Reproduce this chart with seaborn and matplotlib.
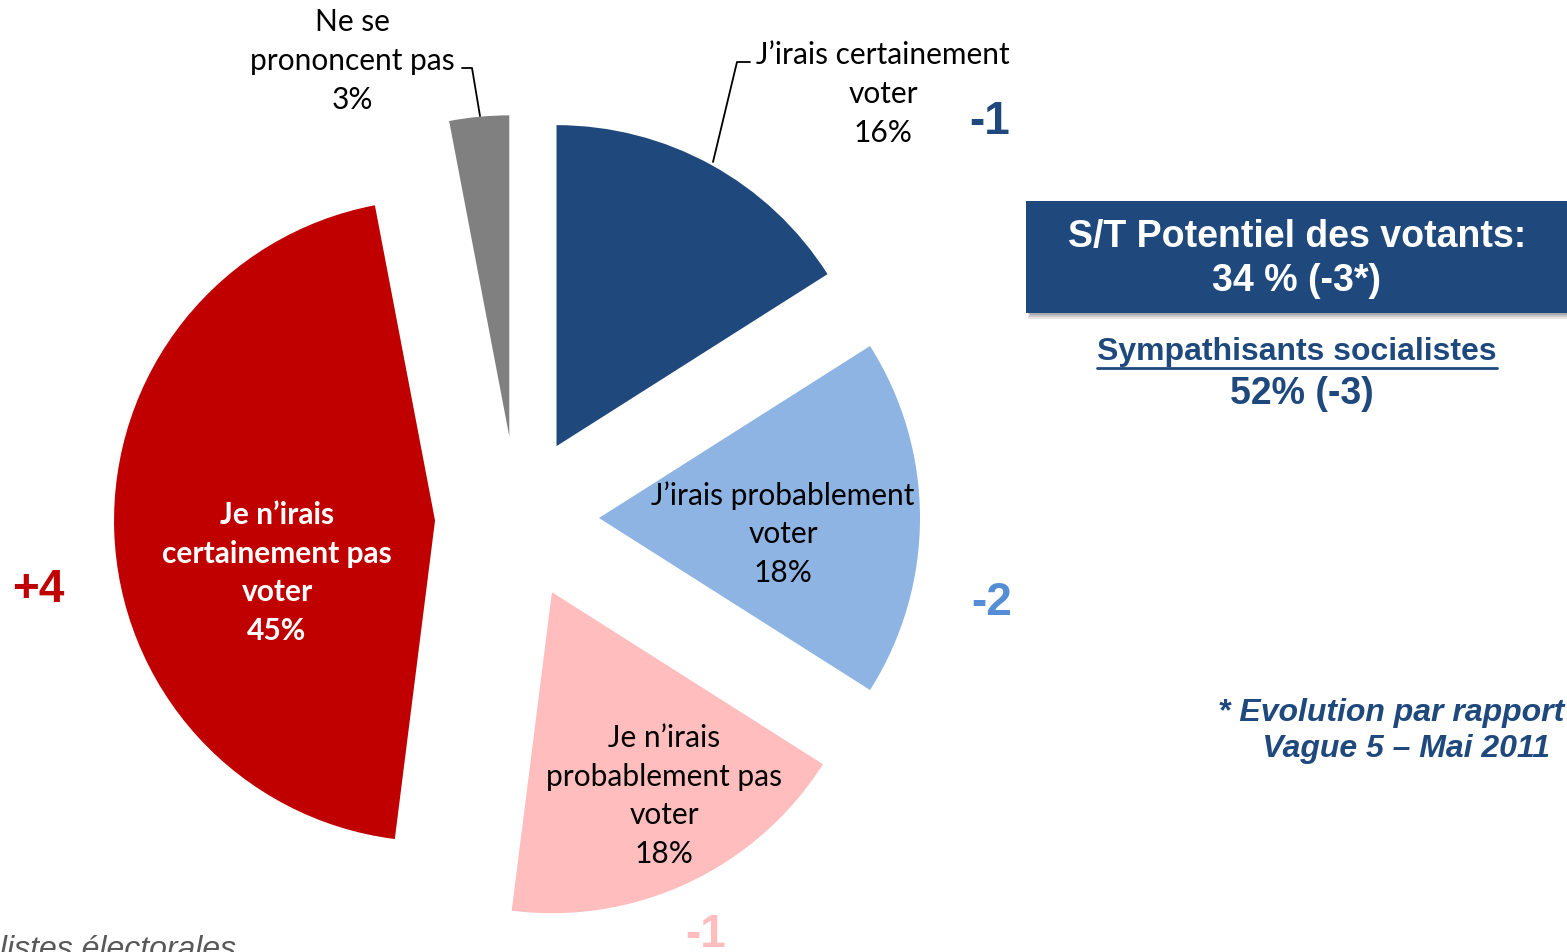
import numpy as np
import pandas as pd
import seaborn as sns
from matplotlib import pyplot as plt
from matplotlib.patches import Rectangle

# survey data
categories = ["J’irais certainement\nvoter",
              "J’irais probablement\nvoter",
              "Je n’irais\nprobablement pas\nvoter",
              "Je n’irais\ncertainement pas\nvoter",
              "Ne se\nprononcent pas"]
values = [16, 18, 18, 45, 3]
changes = ['-1', '-2', '-1', '+4', '']
slice_colors = ['#1F497D', '#8EB4E3', '#FFBDBD', '#C00000', '#808080']
change_colors = ['#1F497D', '#558ED5', '#FFBDBD', '#C00000', '#808080']

box_title = 'S/T Potentiel des votants:\n34 % (-3*)'
sub_title = 'Sympathisants socialistes'
sub_value = '52% (-3)'
note = '* Evolution par rapport\n     Vague 5 – Mai 2011'
base_note = 'Base : inscrits sur les listes électorales'

df = pd.DataFrame({'categorie': categories, 'valeur': values, 'evolution': changes})

W, H = 1567, 952
sns.set_theme(style='white')
plt.rcParams['font.family'] = ['Lato', 'DejaVu Sans']

fig = plt.figure(figsize=(W / 100, H / 100), dpi=100)
ax = fig.add_axes([0, 0, 1, 1])

def Y(y):
    # picture rows -> axes y
    return H - y

center = (517, Y(518))
radius = 321
wedges, _ = ax.pie(df['valeur'], colors=slice_colors, startangle=90, counterclock=False,
                   explode=[82] * len(df), radius=radius, center=center,
                   wedgeprops=dict(linewidth=0))
ax.set_xlim(0, W)
ax.set_ylim(0, H)
ax.set_aspect('equal')
ax.axis('off')

lab_kw = dict(ha='center', va='center', fontsize=21.5, linespacing=1.47)
# slice labels
ax.text(883, Y(94), f"{df['categorie'][0]}\n{df['valeur'][0]}%", color='black', **lab_kw)
ax.text(783, Y(534), f"{df['categorie'][1]}\n{df['valeur'][1]}%", color='black', **lab_kw)
ax.text(664, Y(796), f"{df['categorie'][2]}\n{df['valeur'][2]}%", color='black', **lab_kw)
ax.text(277, Y(573), f"{df['categorie'][3]}\n{df['valeur'][3]}%", color='white',
        fontweight='bold', **lab_kw)
ax.text(352, Y(61), f"{df['categorie'][4]}\n{df['valeur'][4]}%", color='black', **lab_kw)

# leader lines
ax.plot([713, 737, 750], [Y(162), Y(62), Y(62)], color='black', lw=1.3)
ax.plot([462, 472, 480], [Y(68), Y(68), Y(116)], color='black', lw=1.3)

# evolutions
ch_kw = dict(ha='center', va='center', fontsize=33, fontweight='bold', family='Liberation Sans')
ax.text(990, Y(122), df['evolution'][0], color=change_colors[0], **ch_kw)
ax.text(992, Y(603), df['evolution'][1], color=change_colors[1], **ch_kw)
ax.text(706, Y(935), df['evolution'][2], color=change_colors[2], **ch_kw)
ax.text(38, Y(590), df['evolution'][3], color=change_colors[3], **ch_kw)

# summary box with shadow
for i, a in enumerate([0.10, 0.12, 0.15]):
    ax.add_patch(Rectangle((1026 + 2 + i, Y(313) - 6 + i * 2), 560, 111, color='black',
                           alpha=a, lw=0))
ax.add_patch(Rectangle((1026, Y(313)), 560, 112, color='#1F497D', lw=0))
ax.text(1297, Y(259), box_title, ha='center', va='center', color='white', fontsize=27,
        fontweight='bold', family='Liberation Sans', linespacing=1.3)

ax.text(1297, Y(352), sub_title, ha='center', va='center', color='#1F497D', fontsize=23,
        fontweight='bold', family='Liberation Sans')
ax.plot([1097, 1497], [Y(368), Y(368)], color='#1F497D', lw=2)
ax.text(1302, Y(394), sub_value, ha='center', va='center', color='#1F497D', fontsize=27,
        fontweight='bold', family='Liberation Sans')

ax.text(1218, Y(731), note, ha='left', va='center', color='#1F497D', fontsize=23,
        fontweight='bold', style='italic', family='Liberation Sans', linespacing=1.3)
ax.text(236, Y(950), base_note, ha='right', va='center', color='#595959', fontsize=23,
        style='italic', family='Liberation Sans')

fig.savefig('out.png', dpi=100)
